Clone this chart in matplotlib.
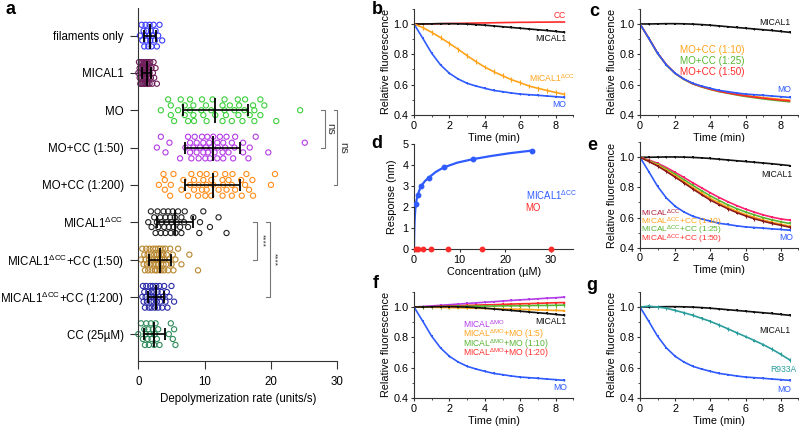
import matplotlib
matplotlib.use('Agg')
import matplotlib.pyplot as plt
from matplotlib.ticker import MultipleLocator

plt.rcParams['font.family'] = ['Liberation Sans', 'DejaVu Sans']
plt.rcParams['mathtext.fontset'] = 'custom'
plt.rcParams['mathtext.rm'] = 'Liberation Sans'
plt.rcParams['mathtext.it'] = 'Liberation Sans:italic'
plt.rcParams['mathtext.bf'] = 'Liberation Sans:bold'

# ---------------- data: panel a ----------------
cat_labels = ['filaments only', 'MICAL1', 'MO', 'MO+CC (1:50)', 'MO+CC (1:200)',
              r'MICAL1$^{\mathrm{\Delta CC}}$', r'MICAL1$^{\mathrm{\Delta CC}}$+CC (1:50)',
              r'MICAL1$^{\mathrm{\Delta CC}}$+CC (1:200)', 'CC (25µM)']
cat_colors = ['#3a3aff', '#6e1f5a', '#3ccf3c', '#b43ce6', '#ff8c1a',
              '#222222', '#b8862e', '#2b2ba8', '#2e8b5a']

pts_fil = [0.25, 0.5, 0.6, 0.8, 0.9, 1.0, 1.1, 1.2, 1.3, 1.5, 1.6, 1.7, 1.8, 1.9,
           2.0, 2.1, 2.3, 2.5, 2.6, 2.8, 3.0, 3.2, 3.6]
pts_mical1 = [0.0, 0.1, 0.2, 0.2, 0.3, 0.3, 0.4, 0.4, 0.5, 0.5, 0.6, 0.6, 0.7, 0.7,
              0.8, 0.8, 0.9, 0.9, 1.0, 1.0, 1.1, 1.1, 1.2, 1.2, 1.3, 1.3, 1.4, 1.4,
              1.5, 1.5, 1.6, 1.6, 1.7, 1.7, 1.8, 1.9, 2.0, 2.1, 2.2, 2.3, 2.4, 2.6,
              2.8, 1.0, 1.2, 0.8, 1.4, 0.6, 1.1, 1.3]
pts_mo = [4.5, 7.0, 8.4, 10.3, 12.7, 6.4, 7.8, 9.5, 11.0, 13.2, 14.1, 15.0, 15.7,
          17.5, 18.4, 3.4, 4.9, 5.4, 7.5, 8.3, 9.6, 11.6, 13.0, 13.8, 15.1, 16.1,
          17.3, 18.4, 20.8, 24.4, 6.0, 7.8, 9.8, 11.2, 13.0, 14.5, 15.2, 16.0,
          16.8, 17.5, 19.0, 4.9, 7.0, 8.3, 10.2, 12.7]
pts_mocc50 = [7.1, 7.8, 8.8, 9.6, 10.2, 10.8, 12.0, 12.8, 14.1, 3.4, 4.7, 8.5, 10.1,
              11.5, 12.7, 13.6, 16.6, 17.7, 2.8, 6.3, 8.0, 9.1, 9.8, 10.7, 11.9,
              13.3, 14.6, 19.6, 25.1, 4.1, 7.5, 8.3, 9.3, 10.5, 11.3, 12.3, 13.1,
              14.5, 15.8, 16.8, 7.8, 8.8, 9.8, 11.9, 12.8, 14.3, 15.8, 10.4, 11.0]
pts_mocc200 = [3.8, 4.8, 6.8, 9.0, 9.6, 10.3, 11.0, 12.1, 12.7, 13.1, 15.6, 8.0, 9.8,
               11.3, 14.2, 16.3, 17.2, 20.0, 3.1, 4.0, 5.3, 7.5, 8.4, 9.3, 10.3,
               12.7, 13.3, 14.1, 16.7, 7.8, 9.1, 11.0, 13.6, 14.6, 20.6, 16.1, 4.0,
               4.9, 6.5, 8.4, 10.1, 10.3, 11.6, 12.8, 14.1, 15.5, 17.3]
pts_dcc = [2.6, 3.4, 4.1, 4.8, 5.5, 6.5, 9.2, 1.5, 2.9, 3.8, 4.5, 5.3, 6.9, 7.5, 8.3,
           2.0, 3.3, 4.3, 5.0, 6.0, 9.8, 10.8, 12.1, 13.3, 1.9, 2.8, 3.9, 4.9, 5.8,
           6.5, 2.4, 3.5, 4.1, 5.6, 6.3, 9.3, 3.0, 4.6, 5.2, 7.0]
pts_dcc50 = [0.4, 0.6, 0.8, 1.0, 1.1, 1.3, 1.5, 1.6, 1.8, 1.9, 2.0, 2.1, 2.3, 2.4,
             2.5, 2.6, 2.7, 2.8, 2.9, 3.0, 3.1, 3.2, 3.3, 3.4, 3.5, 3.6, 3.7, 3.8,
             3.9, 4.0, 4.1, 4.3, 4.5, 4.8, 5.0, 5.3, 5.6, 6.0, 6.5, 7.7, 9.0, 1.2,
             1.7, 2.2, 2.6, 3.0, 3.4, 3.8, 4.2, 2.8, 3.3, 5.2, 0.9, 1.4, 4.6]
pts_dcc200 = [0.6, 0.8, 0.9, 1.0, 1.2, 1.3, 1.5, 1.6, 1.8, 1.9, 2.0, 2.1, 2.3, 2.4,
              2.5, 2.6, 2.8, 2.9, 3.0, 3.2, 3.3, 3.5, 3.7, 3.9, 4.1, 4.4, 4.7, 5.0,
              5.4, 1.1, 1.7, 2.2, 2.7, 3.1, 3.6, 4.3, 0.7, 2.0]
pts_cc = [0.0, 0.4, 0.7, 0.9, 1.0, 1.2, 1.4, 1.5, 1.7, 1.9, 2.0, 2.2, 2.4, 2.6, 2.8,
          3.0, 3.2, 4.6, 4.9, 5.2, 5.6, 5.4, 1.1, 1.6, 2.5]
cat_points = [pts_fil, pts_mical1, pts_mo, pts_mocc50, pts_mocc200,
              pts_dcc, pts_dcc50, pts_dcc200, pts_cc]

cat_mean = [1.76, 1.26, 11.6, 11.2, 11.2, 5.6, 3.27, 2.6, 2.4]
cat_sd_lo = [0.9, 0.6, 6.7, 7.1, 7.0, 2.8, 1.6, 1.4, 0.9]
cat_sd_hi = [2.6, 1.9, 16.5, 15.3, 15.3, 8.3, 4.9, 3.9, 4.0]

# ---------------- data: kinetics (b, c, e, f, g) ----------------
time = [0, 0.5, 1.0, 1.5, 2.0, 2.5, 3.0, 3.5, 4.0, 4.5, 5.0, 5.5, 6.0, 6.5, 7.0, 7.5, 8.0, 8.5]
mo = [1.0, 0.905, 0.807, 0.73, 0.675, 0.637, 0.609, 0.591, 0.576, 0.562, 0.554,
      0.545, 0.538, 0.534, 0.530, 0.525, 0.521, 0.516]
mical1 = [1.0, 1.0, 1.001, 1.002, 1.002, 1.001, 0.999, 0.996, 0.992, 0.987, 0.982,
          0.977, 0.972, 0.967, 0.962, 0.957, 0.951, 0.945]
cc = [1.0, 1.0, 1.001, 1.002, 1.003, 1.004, 1.005, 1.006, 1.007, 1.008, 1.009,
      1.01, 1.011, 1.011, 1.012, 1.012, 1.013, 1.013]
mical1_dcc = [1.0, 0.976, 0.945, 0.91, 0.872, 0.833, 0.791, 0.752, 0.716, 0.686,
              0.659, 0.633, 0.613, 0.591, 0.576, 0.562, 0.549, 0.536]
mo_cc10 = [1.0, 0.905, 0.806, 0.729, 0.674, 0.636, 0.607, 0.588, 0.572, 0.558, 0.548,
           0.538, 0.529, 0.522, 0.515, 0.509, 0.503, 0.498]
mo_cc25 = [1.0, 0.905, 0.806, 0.729, 0.673, 0.634, 0.605, 0.585, 0.568, 0.554, 0.543,
           0.532, 0.522, 0.514, 0.506, 0.499, 0.493, 0.487]
mo_cc50 = [1.0, 0.907, 0.809, 0.732, 0.675, 0.636, 0.606, 0.587, 0.570, 0.556, 0.545,
           0.535, 0.526, 0.518, 0.511, 0.504, 0.498, 0.493]
dcc_e = [1.0, 0.972, 0.942, 0.906, 0.868, 0.83, 0.79, 0.752, 0.716, 0.686, 0.658,
         0.633, 0.611, 0.592, 0.576, 0.561, 0.549, 0.536]
dcc_cc10 = [1.0, 0.975, 0.947, 0.913, 0.876, 0.838, 0.799, 0.762, 0.727, 0.697, 0.668,
            0.642, 0.62, 0.601, 0.584, 0.569, 0.556, 0.544]
dcc_cc25 = [1.0, 0.978, 0.953, 0.922, 0.887, 0.851, 0.814, 0.778, 0.744, 0.713, 0.684,
            0.659, 0.637, 0.618, 0.600, 0.585, 0.572, 0.561]
dcc_cc50 = [1.0, 0.982, 0.96, 0.932, 0.9, 0.866, 0.831, 0.797, 0.764, 0.733, 0.705,
            0.679, 0.656, 0.636, 0.618, 0.603, 0.591, 0.583]
dmo = [1.0, 1.003, 1.007, 1.011, 1.015, 1.019, 1.023, 1.027, 1.031, 1.035, 1.039,
       1.043, 1.047, 1.050, 1.054, 1.058, 1.061, 1.065]
dmo_mo5 = [1.0, 0.999, 0.998, 0.997, 0.996, 0.995, 0.993, 0.992, 0.99, 0.989, 0.987,
           0.986, 0.984, 0.983, 0.981, 0.979, 0.977, 0.976]
dmo_mo10 = [1.0, 1.0, 1.001, 1.002, 1.003, 1.004, 1.004, 1.005, 1.006, 1.006, 1.007,
            1.008, 1.008, 1.009, 1.01, 1.01, 1.011, 1.012]
dmo_mo20 = [1.0, 1.001, 1.002, 1.004, 1.006, 1.008, 1.010, 1.012, 1.014, 1.015, 1.017,
            1.019, 1.021, 1.022, 1.024, 1.026, 1.028, 1.029]
r933a = [1.0, 1.005, 1.0, 0.992, 0.977, 0.962, 0.945, 0.925, 0.905, 0.881, 0.856,
         0.83, 0.805, 0.779, 0.752, 0.722, 0.688, 0.652]

# ---------------- data: panel d ----------------
conc_dcc = [0.41, 0.81, 1.63, 3.25, 6.5, 13, 26]
resp_dcc = [2.14, 2.56, 3.02, 3.41, 3.89, 4.29, 4.70]
conc_mo = [0.47, 0.94, 1.88, 3.75, 7.5, 15, 30]
resp_mo = [0, 0, 0, 0, 0, 0, 0]
fit_x = [0, 0.01, 0.03, 0.06, 0.1, 0.15, 0.2, 0.3, 0.41, 0.6, 0.81, 1.2, 1.63, 2.4,
         3.25, 4.8, 6.5, 9.5, 13, 17, 21, 26]
fit_y = [0, 0.2, 0.5, 0.85, 1.15, 1.42, 1.62, 1.92, 2.14, 2.38, 2.56, 2.82, 3.02, 3.24,
         3.41, 3.68, 3.89, 4.12, 4.29, 4.44, 4.57, 4.70]

# ---------------- figure ----------------
W, H = 799, 428
fig = plt.figure(figsize=(W / 100, H / 100), dpi=100)

def ax_px(l, t, r, b):
    return fig.add_axes([l / W, 1 - b / H, (r - l) / W, (b - t) / H])

SPC = '#333333'

def style(ax, fs=7.8):
    for s in ['top', 'right']:
        ax.spines[s].set_visible(False)
    for s in ['left', 'bottom']:
        ax.spines[s].set_color(SPC)
        ax.spines[s].set_linewidth(0.8)
    ax.tick_params(which='major', length=2.5, width=0.8, pad=1.5, labelsize=fs, color=SPC)
    ax.tick_params(which='minor', length=1.5, width=0.6, color=SPC)

# ---- panel a ----
axa = ax_px(138.3, 8, 337.3, 361)
style(axa, fs=8.3)
axa.tick_params(which='major', length=5.5, pad=5)
jit = [0.0, -0.29, 0.13, -0.13, 0.29]
for i, pts in enumerate(cat_points):
    srt = sorted(pts)
    ys = [i + jit[k % len(jit)] for k in range(len(srt))]
    axa.scatter(srt, ys, s=14, facecolors='none', edgecolors=cat_colors[i],
                linewidths=0.8, zorder=2, clip_on=False)
for i in range(len(cat_mean)):
    m = cat_mean[i]
    axa.errorbar([m], [i], xerr=[[m - cat_sd_lo[i]], [cat_sd_hi[i] - m]], fmt='|',
                 ms=18, mew=1.3, color='k', elinewidth=1.2, capsize=4.5, capthick=1.2,
                 zorder=3)
axa.set_xlim(0, 30)
axa.set_ylim(8.72, -0.74)
axa.set_yticks(range(len(cat_labels)))
axa.set_yticklabels(cat_labels)
axa.set_xticks([0, 10, 20, 30])
axa.set_xlabel('Depolymerization rate (units/s)', fontsize=8.3, labelpad=4)

def bracket(ax, x, y0, y1, dx, txt, tx, fs):
    ax.plot([x - dx, x, x, x - dx], [y0, y0, y1, y1], color='#777777', lw=0.8,
            clip_on=False)
    ax.text(tx, (y0 + y1) / 2, txt, rotation=-90, ha='center', va='center',
            fontsize=fs, color='#333333', clip_on=False)

bracket(axa, 28.1, 2, 3, 0.5, 'ns', 28.95, 8)
bracket(axa, 30.0, 2, 4, 0.5, 'ns', 30.9, 8)
bracket(axa, 17.9, 5, 6, 0.6, '****', 18.65, 6)
bracket(axa, 19.9, 5, 7, 0.6, '****', 20.45, 6)

# ---- kinetic panels helper ----
def kin_axes(l, t, r, b):
    ax = ax_px(l, t, r, b)
    style(ax)
    ax.set_xlim(0, 9)
    ax.set_ylim(0.4, 1.1)
    ax.xaxis.set_major_locator(MultipleLocator(2))
    ax.xaxis.set_minor_locator(MultipleLocator(1))
    ax.set_yticks([0.4, 0.6, 0.8, 1.0])
    ax.yaxis.set_minor_locator(MultipleLocator(0.1))
    ax.set_xlabel('Time (min)', fontsize=7.8, labelpad=1.5)
    ax.set_ylabel('Relative fluorescence', fontsize=7.8, labelpad=2)
    return ax

def curve(ax, y, color, err=0.0, ms=1.6, lw=1.2, z=2):
    ax.errorbar(time, y, yerr=err if err else None, color=color, lw=lw, elinewidth=0.8,
                capsize=0, marker='s', ms=ms, mew=0, zorder=z)

BLUE = '#2f5bff'
BLK = '#111111'
FS = 6.2

# ---- panel b ----
axb = kin_axes(414, 8.8, 573.3, 115)
curve(axb, cc, '#ff2a2a', ms=0)
curve(axb, mical1, BLK, err=0.004)
curve(axb, mical1_dcc, '#ffa31a', err=0.015, ms=0)
curve(axb, mo, BLUE, err=0.003)
axb.text(8.57, 1.055, 'CC', color='#ff2a2a', ha='right', va='center', fontsize=FS)
axb.text(8.6, 0.901, 'MICAL1', color=BLK, ha='right', va='center', fontsize=FS)
axb.text(9.1, 0.642, r'MICAL1$^{\mathrm{\Delta CC}}$', color='#ffa31a', ha='right',
         va='center', fontsize=FS, clip_on=False)
axb.text(8.6, 0.471, 'MO', color=BLUE, ha='right', va='center', fontsize=FS)

# ---- panel c ----
axc = kin_axes(640, 8.8, 798.3, 115)
curve(axc, mical1, BLK, err=0.004)
curve(axc, mo_cc10, '#ffa31a', ms=0)
curve(axc, mo_cc25, '#58b531', ms=0)
curve(axc, mo_cc50, '#ff2a2a', ms=0)
curve(axc, mo, BLUE, err=0.003)
axc.text(8.53, 1.009, 'MICAL1', color=BLK, ha='right', va='center', fontsize=FS)
axc.text(4.1, 0.829, 'MO+CC (1:10)', color='#ffa31a', ha='center', va='center', fontsize=7.1)
axc.text(4.1, 0.756, 'MO+CC (1:25)', color='#58b531', ha='center', va='center', fontsize=7.1)
axc.text(4.1, 0.686, 'MO+CC (1:50)', color='#ff2a2a', ha='center', va='center', fontsize=7.1)
axc.text(8.6, 0.57, 'MO', color=BLUE, ha='right', va='center', fontsize=FS)

# ---- panel d ----
axd = ax_px(414, 143.8, 573.3, 249)
style(axd)
axd.set_xlim(0, 35)
axd.set_ylim(0, 5.02)
axd.set_xticks([0, 10, 20, 30])
axd.set_yticks([0, 1, 2, 3, 4, 5])
axd.plot(fit_x, fit_y, color=BLUE, lw=1.6, zorder=2)
axd.plot(conc_dcc, resp_dcc, 'o', color=BLUE, ms=3.2, zorder=3)
axd.plot(conc_mo, resp_mo, 'o', color='#ff2a2a', ms=3.2, zorder=3, clip_on=False)
axd.set_xlabel('Concentration (µM)', fontsize=7.8, labelpad=1.5)
axd.set_ylabel('Response (nm)', fontsize=7.8, labelpad=4)
axd.text(24.5, 2.59, r'MICAL1$^{\mathrm{\Delta CC}}$', color=BLUE, ha='left',
         va='center', fontsize=6.9)
axd.text(24.5, 1.98, 'MO', color='#ff2a2a', ha='left', va='center', fontsize=6.9)

# ---- panel e ----
axe = kin_axes(640, 142.2, 798.3, 247.7)
curve(axe, mical1, BLK, err=0.004)
curve(axe, mo, BLUE, err=0.003)
curve(axe, dcc_cc50, '#ff1f6e', err=0.004)
curve(axe, dcc_cc25, '#58b531', err=0.004)
curve(axe, dcc_cc10, '#ffa31a', err=0.004)
curve(axe, dcc_e, '#8b1a1a', err=0.012)
axe.text(8.68, 0.889, 'MICAL1', color=BLK, ha='right', va='center', fontsize=FS)
axe.text(8.68, 0.467, 'MO', color=BLUE, ha='right', va='center', fontsize=FS)
e_lab = [r'MICAL$^{\mathrm{\Delta CC}}$', r'MICAL$^{\mathrm{\Delta CC}}$+CC (1:10)',
         r'MICAL$^{\mathrm{\Delta CC}}$+CC (1:25)', r'MICAL$^{\mathrm{\Delta CC}}$+CC (1:50)']
e_col = ['#b0203a', '#ffa31a', '#58b531', '#ff3030']
e_y = [0.628, 0.569, 0.512, 0.455]
for s, c, yv in zip(e_lab, e_col, e_y):
    axe.text(0.06, yv, s, color=c, ha='left', va='center', fontsize=6)

# ---- panel f ----
axf = kin_axes(414, 291.8, 573.3, 398)
curve(axf, dmo, '#b43ce6', err=0.003)
curve(axf, dmo_mo20, '#ff2a2a', err=0.004)
curve(axf, dmo_mo10, '#58b531', err=0.015)
curve(axf, dmo_mo5, '#ffa31a', err=0.004)
curve(axf, mical1, BLK, err=0.004)
curve(axf, mo, BLUE, err=0.003)
axf.text(8.63, 0.901, 'MICAL1', color=BLK, ha='right', va='center', fontsize=FS)
axf.text(8.63, 0.471, 'MO', color=BLUE, ha='right', va='center', fontsize=FS)
f_lab = [r'MICAL$^{\mathrm{\Delta MO}}$', r'MICAL$^{\mathrm{\Delta MO}}$+MO (1:5)',
         r'MICAL$^{\mathrm{\Delta MO}}$+MO (1:10)', r'MICAL$^{\mathrm{\Delta MO}}$+MO (1:20)']
f_col = ['#b43ce6', '#ffa31a', '#58b531', '#ff3030']
f_y = [0.886, 0.822, 0.758, 0.694]
for s, c, yv in zip(f_lab, f_col, f_y):
    axf.text(2.79, yv, s, color=c, ha='left', va='center', fontsize=6.2)

# ---- panel g ----
axg = kin_axes(640, 291.8, 798.3, 398)
curve(axg, mical1, BLK, err=0.004)
curve(axg, r933a, '#2a9d9d', err=0.012)
curve(axg, mo, BLUE, err=0.003)
axg.text(8.53, 0.846, 'MICAL1', color=BLK, ha='right', va='center', fontsize=FS)
axg.text(8.87, 0.591, 'R933A', color='#2a9d9d', ha='right', va='center', fontsize=FS,
         clip_on=False)
axg.text(8.6, 0.459, 'MO', color=BLUE, ha='right', va='center', fontsize=FS)

# ---- panel letters ----
for lab, (px, py) in zip('abcdefg', [(10.5, 10), (377, 10), (594, 12), (377, 143),
                                     (592, 146), (376, 283), (592, 285)]):
    fig.text(px / W, 1 - py / H, lab, fontsize=13, fontweight='bold',
             ha='center', va='center')

fig.savefig('out.png', dpi=100)
